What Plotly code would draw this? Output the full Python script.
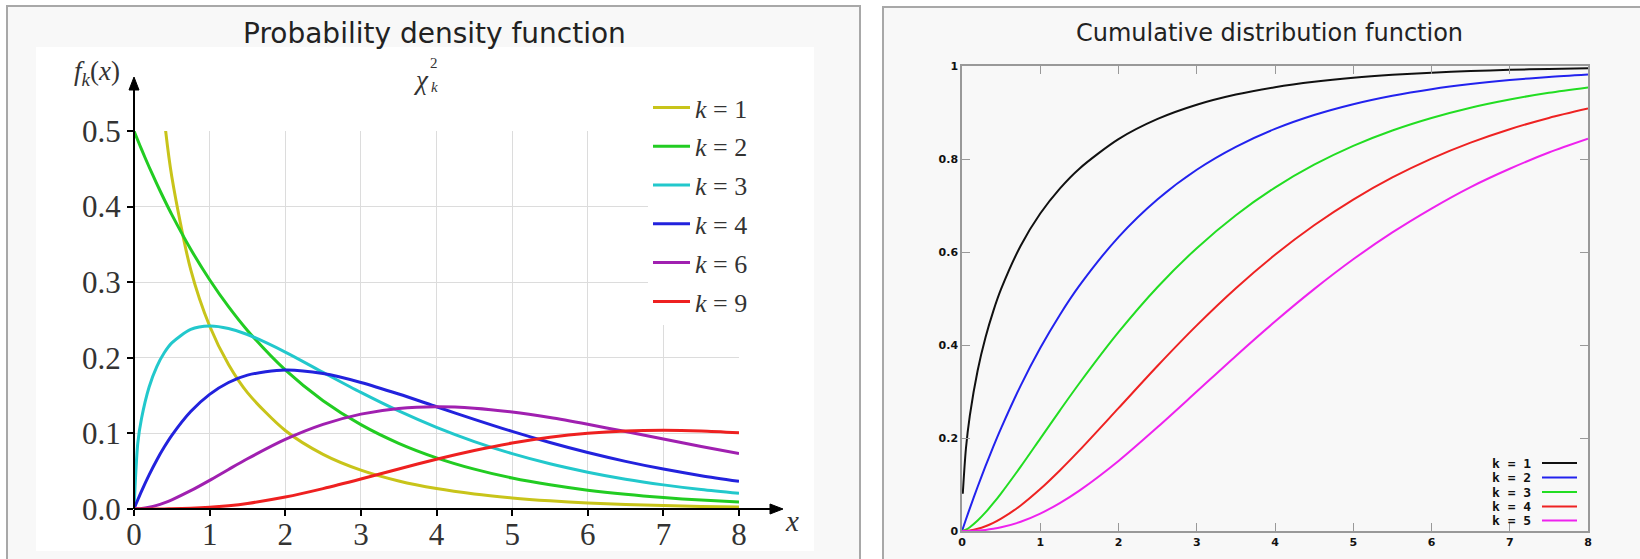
import plotly.graph_objects as go

W, H = 1640, 559

# ---------------- data ----------------
X = [0, 0.05, 0.1, 0.2, 0.3, 0.4, 0.5, 0.75, 1, 1.25, 1.5, 2, 2.5, 3, 3.5,
     4, 4.5, 5, 5.5, 6, 6.5, 7, 7.5, 8]

pdf_labels = ["1", "2", "3", "4", "6", "9"]
pdf_k1 = [None, 1.740, 1.200, 0.8072, 0.6269, 0.5164, 0.4394, 0.3166, 0.2420, 0.1910,
          0.1539, 0.1038, 0.0723, 0.0514, 0.0371, 0.0270, 0.0198, 0.0147, 0.0109,
          0.0081, 0.0061, 0.0046, 0.0034, 0.0026]
pdf_k2 = [0.5, 0.4877, 0.4756, 0.4524, 0.4304, 0.4094, 0.3894, 0.3436, 0.3033, 0.2676,
          0.2362, 0.1839, 0.1433, 0.1116, 0.0869, 0.0677, 0.0527, 0.0410, 0.0320,
          0.0249, 0.0194, 0.0151, 0.0118, 0.0092]
pdf_k3 = [0, 0.0870, 0.1200, 0.1614, 0.1881, 0.2066, 0.2197, 0.2375, 0.2420, 0.2387,
          0.2308, 0.2076, 0.1807, 0.1542, 0.1297, 0.1080, 0.0892, 0.0732, 0.0598,
          0.0487, 0.0394, 0.0319, 0.0257, 0.0207]
pdf_k4 = [0, 0.0122, 0.0238, 0.0452, 0.0646, 0.0819, 0.0974, 0.1289, 0.1516, 0.1673,
          0.1771, 0.1839, 0.1791, 0.1674, 0.1521, 0.1353, 0.1186, 0.1026, 0.0879,
          0.0747, 0.0630, 0.0528, 0.0441, 0.0366]
pdf_k6 = [0, 0.0002, 0.0006, 0.0023, 0.0048, 0.0082, 0.0122, 0.0242, 0.0379, 0.0523,
          0.0664, 0.0920, 0.1119, 0.1255, 0.1330, 0.1353, 0.1334, 0.1283, 0.1209,
          0.1120, 0.1024, 0.0925, 0.0827, 0.0733]
pdf_k9 = [0, 0.0000, 0.0000, 0.0000, 0.0000, 0.0001, 0.0003, 0.0010, 0.0023, 0.0044,
          0.0074, 0.0158, 0.0269, 0.0396, 0.0530, 0.0658, 0.0774, 0.0872, 0.0948,
          0.1001, 0.1032, 0.1041, 0.1032, 0.1008]
pdf_colors = ["#c8c41a", "#22cc22", "#22c8cc", "#2222dd", "#a020b0", "#ee2020"]

X_CDF_K1 = [0.01] + X[1:]
cdf_labels = ["1", "2", "3", "4", "5"]
cdf_k1 = [0.080, 0.1769, 0.2482, 0.3453, 0.4161, 0.4729, 0.5205, 0.6135, 0.6827, 0.7364,
          0.7793, 0.8427, 0.8862, 0.9167, 0.9386, 0.9545, 0.9661, 0.9747, 0.9810,
          0.9857, 0.9892, 0.9918, 0.9938, 0.9953]
cdf_k2 = [0, 0.0247, 0.0488, 0.0952, 0.1393, 0.1813, 0.2212, 0.3127, 0.3935, 0.4647,
          0.5276, 0.6321, 0.7135, 0.7769, 0.8262, 0.8647, 0.8946, 0.9179, 0.9361,
          0.9502, 0.9612, 0.9698, 0.9765, 0.9817]
cdf_k3 = [0, 0.0029, 0.0082, 0.0225, 0.0399, 0.0597, 0.0811, 0.1385, 0.1987, 0.2590,
          0.3177, 0.4275, 0.5248, 0.6083, 0.6792, 0.7385, 0.7877, 0.8283, 0.8614,
          0.8883, 0.9104, 0.9280, 0.9424, 0.9539]
cdf_k4 = [0, 0.0003, 0.0012, 0.0047, 0.0102, 0.0175, 0.0265, 0.0550, 0.0902, 0.1302,
          0.1733, 0.2642, 0.3554, 0.4422, 0.5221, 0.5940, 0.6575, 0.7127, 0.7603,
          0.8009, 0.8352, 0.8641, 0.8883, 0.9084]
cdf_k5 = [0, 0.0000, 0.0002, 0.0010, 0.0023, 0.0046, 0.0079, 0.0198, 0.0374, 0.0601,
          0.0869, 0.1507, 0.2236, 0.2999, 0.3766, 0.4505, 0.5201, 0.5843, 0.6421,
          0.6935, 0.7397, 0.7791, 0.8139, 0.8435]
cdf_colors = ["#111111", "#2222ee", "#22dd22", "#ee2222", "#ee22ee"]

x_ticks = [0, 1, 2, 3, 4, 5, 6, 7, 8]
pdf_y_ticks = [0.0, 0.1, 0.2, 0.3, 0.4, 0.5]
cdf_y_ticks = [0, 0.2, 0.4, 0.6, 0.8, 1]
cdf_y_text = ["0", "0.2", "0.4", "0.6", "0.8", "1"]


def px(x):
    return x / W


def py(y):
    return 1 - y / H


SERIF = "Liberation Serif, DejaVu Serif, serif"
SANS = "DejaVu Sans, sans-serif"

fig = go.Figure()

pdf_series = [pdf_k1, pdf_k2, pdf_k3, pdf_k4, pdf_k6, pdf_k9]
for lab, ys, col in zip(pdf_labels, pdf_series, pdf_colors):
    fig.add_trace(go.Scatter(
        x=X, y=ys, mode="lines", name=f"<i>k</i> = {lab}", legendgroup=lab,
        line=dict(color=col, width=3, shape="spline", smoothing=0.8),
        xaxis="x", yaxis="y", hoverinfo="skip"))

cdf_series = [cdf_k1, cdf_k2, cdf_k3, cdf_k4, cdf_k5]
for i, (lab, ys, col) in enumerate(zip(cdf_labels, cdf_series, cdf_colors)):
    xs = X_CDF_K1 if i == 0 else X
    fig.add_trace(go.Scatter(
        x=xs, y=ys, mode="lines", name=f"k = {lab}", showlegend=False,
        line=dict(color=col, width=2, shape="spline", smoothing=0.8),
        xaxis="x2", yaxis="y2", hoverinfo="skip"))

shapes = [
    # left panel
    dict(type="rect", xref="paper", yref="paper", x0=px(7), x1=px(860), y0=py(560), y1=py(6),
         fillcolor="#f8f8f8", line=dict(color="#a8a8a8", width=2), layer="below"),
    dict(type="rect", xref="paper", yref="paper", x0=px(36), x1=px(814), y0=py(551), y1=py(47),
         fillcolor="#ffffff", line=dict(width=0), layer="below"),
    # right panel
    dict(type="rect", xref="paper", yref="paper", x0=px(883), x1=px(1650), y0=py(570), y1=py(7),
         fillcolor="#f8f8f8", line=dict(color="#a8a8a8", width=2), layer="below"),
    # left chart axis lines with arrow heads
    dict(type="line", xref="paper", yref="paper", x0=px(134), x1=px(134), y0=py(509), y1=py(86),
         line=dict(color="#000", width=2)),
    dict(type="path", xref="paper", yref="paper",
         path=f"M {px(134)},{py(77)} L {px(129)},{py(90)} L {px(139)},{py(90)} Z",
         fillcolor="#000", line=dict(color="#000", width=1)),
    dict(type="line", xref="paper", yref="paper", x0=px(134), x1=px(775), y0=py(509), y1=py(509),
         line=dict(color="#000", width=2)),
    dict(type="path", xref="paper", yref="paper",
         path=f"M {px(783)},{py(509)} L {px(770)},{py(504)} L {px(770)},{py(514)} Z",
         fillcolor="#000", line=dict(color="#000", width=1)),
]

annotations = [
    dict(text="Probability density function", xref="paper", yref="paper",
         x=px(434), y=py(33), xanchor="center", yanchor="middle", showarrow=False,
         font=dict(family=SANS, size=28, color="#222")),
    dict(text="Cumulative distribution function", xref="paper", yref="paper",
         x=px(1269), y=py(33), xanchor="center", yanchor="middle", showarrow=False,
         font=dict(family=SANS, size=24, color="#222")),
    dict(text="<i>f<sub>k</sub></i>(<i>x</i>)", xref="paper", yref="paper",
         x=px(97), y=py(73), xanchor="center", yanchor="middle", showarrow=False,
         font=dict(family=SERIF, size=27, color="#333")),
    dict(text="<i>χ</i>", xref="paper", yref="paper",
         x=px(421), y=py(80), xanchor="center", yanchor="middle", showarrow=False,
         font=dict(family=SERIF, size=27, color="#333")),
    dict(text="2", xref="paper", yref="paper",
         x=px(434), y=py(63), xanchor="center", yanchor="middle", showarrow=False,
         font=dict(family=SERIF, size=15, color="#333")),
    dict(text="<i>k</i>", xref="paper", yref="paper",
         x=px(434), y=py(87), xanchor="center", yanchor="middle", showarrow=False,
         font=dict(family=SERIF, size=15, color="#333")),
    dict(text="<i>x</i>", xref="paper", yref="paper",
         x=px(792), y=py(521), xanchor="center", yanchor="middle", showarrow=False,
         font=dict(family=SERIF, size=29, color="#333")),
]

# right-hand legend (text then line sample)
leg_rows = [463, 477.5, 492, 506.5, 520.5]
for lab, col, yy in zip(cdf_labels, cdf_colors, leg_rows):
    annotations.append(dict(text=f"<b>k = {lab}</b>", xref="paper", yref="paper",
                            x=px(1533), y=py(yy), xanchor="right", yanchor="middle",
                            showarrow=False,
                            font=dict(family="DejaVu Sans Mono, monospace", size=13, color="#111")))
    shapes.append(dict(type="line", xref="paper", yref="paper", x0=px(1542), x1=px(1577),
                       y0=py(yy), y1=py(yy), line=dict(color=col, width=2)))

fig.update_layout(
    width=W, height=H, margin=dict(l=0, r=0, t=0, b=0, autoexpand=False),
    paper_bgcolor="#ffffff", plot_bgcolor="rgba(0,0,0,0)",
    shapes=shapes, annotations=annotations,
    showlegend=True,
    legend=dict(x=px(648), y=py(84), xanchor="left", yanchor="top",
                bgcolor="#ffffff", font=dict(family=SERIF, size=26, color="#333"),
                tracegroupgap=2, itemwidth=37, borderwidth=0),
    xaxis=dict(domain=[px(134), px(739)], range=[0, 8], tickvals=x_ticks,
               showgrid=True, gridcolor="#dcdcdc", gridwidth=1, zeroline=False,
               showline=False, ticks="outside", ticklen=6, tickwidth=1.5, tickcolor="#000",
               ticklabelstandoff=-8,
               tickfont=dict(family=SERIF, size=31, color="#333"), anchor="y", fixedrange=True),
    yaxis=dict(domain=[py(509), py(131)], range=[0, 0.5], tickvals=pdf_y_ticks,
               tickformat=".1f", showgrid=True, gridcolor="#dcdcdc", gridwidth=1,
               zeroline=False, showline=False, ticks="outside", ticklen=6, tickwidth=1.5,
               tickcolor="#000", tickfont=dict(family=SERIF, size=31, color="#333"),
               anchor="x", fixedrange=True),
    xaxis2=dict(domain=[px(962), px(1588)], range=[0, 8], tickvals=x_ticks,
                showgrid=False, zeroline=False, showline=True, linecolor="#999", linewidth=1.5,
                mirror="ticks", ticks="inside", ticklen=8, tickcolor="#999", tickwidth=1,
                tickfont=dict(family=SANS, size=11, color="#111", weight="bold"),
                anchor="y2", fixedrange=True),
    yaxis2=dict(domain=[py(531), py(66)], range=[0, 1], tickvals=cdf_y_ticks,
                ticktext=cdf_y_text, showgrid=False, zeroline=False, showline=True,
                linecolor="#999", linewidth=1.5, mirror="ticks", ticks="inside", ticklen=8,
                tickcolor="#999", tickwidth=1,
                tickfont=dict(family=SANS, size=11, color="#111", weight="bold"),
                anchor="x2", fixedrange=True),
)

fig.write_html("out.html", config={"displayModeBar": False},
               post_script="document.body.style.margin='0';document.body.style.overflow='hidden';")
